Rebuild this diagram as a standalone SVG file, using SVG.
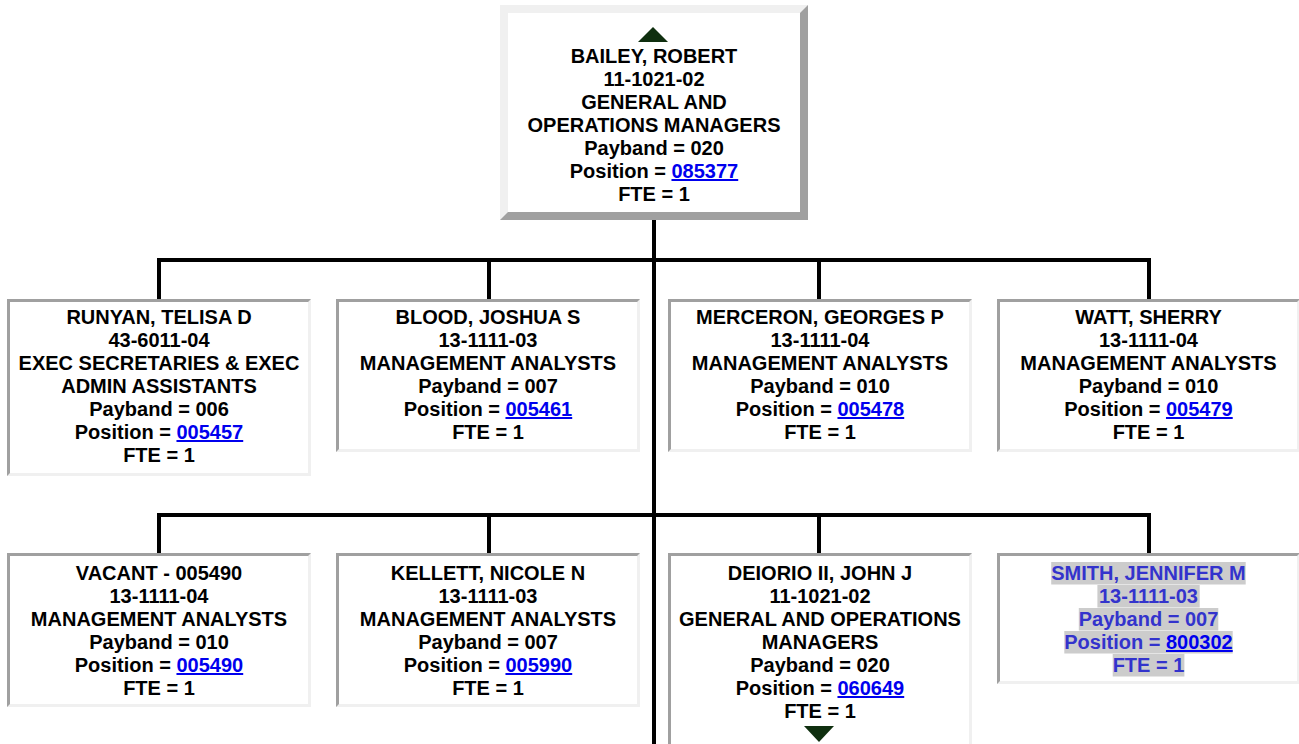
<svg xmlns="http://www.w3.org/2000/svg" width="1299" height="744" viewBox="0 0 1299 744">
<style>
.t{font-family:"Liberation Sans",Arial,sans-serif;font-weight:bold;font-size:20px;text-anchor:middle;fill:#000}
.lk{fill:#0000ee;text-decoration:underline}
.sel{fill:#3333cc}
.dk{fill:#a0a0a0}
.lt{fill:#f0f0f0}
.in{fill:#ffffff}
.hl{fill:#cccccc}
.tri{fill:#0f2f0f}
.c{stroke:#000;stroke-width:4;fill:none}
</style>
<rect width="1299" height="744" fill="#fff"/>
<g id="connectors">
<line class="c" x1="654" y1="220" x2="654" y2="744"/>
<line class="c" x1="157" y1="260" x2="1151" y2="260"/>
<line class="c" x1="159" y1="260" x2="159" y2="299"/>
<line class="c" x1="489" y1="260" x2="489" y2="299"/>
<line class="c" x1="819" y1="260" x2="819" y2="299"/>
<line class="c" x1="1149" y1="260" x2="1149" y2="299"/>
<line class="c" x1="157" y1="515" x2="1151" y2="515"/>
<line class="c" x1="159" y1="515" x2="159" y2="553"/>
<line class="c" x1="489" y1="515" x2="489" y2="553"/>
<line class="c" x1="819" y1="515" x2="819" y2="553"/>
<line class="c" x1="1149" y1="515" x2="1149" y2="553"/>
</g>
<g id="bailey">
<rect class="dk" x="500" y="5" width="308" height="215"/>
<polygon class="lt" points="500,5 808,5 800,13 508,13 508,212 500,220"/>
<rect class="in" x="508" y="13" width="292" height="199"/>
<polygon class="tri" points="653,27 668,42 638,42"/>
<text class="t" x="654" y="63">BAILEY, ROBERT</text>
<text class="t" x="654" y="86">11-1021-02</text>
<text class="t" x="654" y="109">GENERAL AND</text>
<text class="t" x="654" y="132">OPERATIONS MANAGERS</text>
<text class="t" x="654" y="155">Payband = 020</text>
<text class="t" x="654" y="178">Position = <tspan class="lk">085377</tspan></text>
<text class="t" x="654" y="201">FTE = 1</text>
</g>
<g id="runyan">
<rect class="lt" x="7" y="299" width="304" height="177"/>
<polygon class="dk" points="7,299 311,299 308,302 10,302 10,473 7,476"/>
<rect class="in" x="10" y="302" width="298" height="171"/>
<text class="t" x="159" y="324">RUNYAN, TELISA D</text>
<text class="t" x="159" y="347">43-6011-04</text>
<text class="t" x="159" y="370">EXEC SECRETARIES &amp; EXEC</text>
<text class="t" x="159" y="393">ADMIN ASSISTANTS</text>
<text class="t" x="159" y="416">Payband = 006</text>
<text class="t" x="159" y="439">Position = <tspan class="lk">005457</tspan></text>
<text class="t" x="159" y="462">FTE = 1</text>
</g>
<g id="blood">
<rect class="lt" x="336" y="299" width="304" height="153"/>
<polygon class="dk" points="336,299 640,299 637,302 339,302 339,449 336,452"/>
<rect class="in" x="339" y="302" width="298" height="147"/>
<text class="t" x="488" y="324">BLOOD, JOSHUA S</text>
<text class="t" x="488" y="347">13-1111-03</text>
<text class="t" x="488" y="370">MANAGEMENT ANALYSTS</text>
<text class="t" x="488" y="393">Payband = 007</text>
<text class="t" x="488" y="416">Position = <tspan class="lk">005461</tspan></text>
<text class="t" x="488" y="439">FTE = 1</text>
</g>
<g id="merceron">
<rect class="lt" x="668" y="299" width="304" height="153"/>
<polygon class="dk" points="668,299 972,299 969,302 671,302 671,449 668,452"/>
<rect class="in" x="671" y="302" width="298" height="147"/>
<text class="t" x="820" y="324">MERCERON, GEORGES P</text>
<text class="t" x="820" y="347">13-1111-04</text>
<text class="t" x="820" y="370">MANAGEMENT ANALYSTS</text>
<text class="t" x="820" y="393">Payband = 010</text>
<text class="t" x="820" y="416">Position = <tspan class="lk">005478</tspan></text>
<text class="t" x="820" y="439">FTE = 1</text>
</g>
<g id="watt">
<rect class="lt" x="997" y="299" width="303" height="153"/>
<polygon class="dk" points="997,299 1300,299 1297,302 1000,302 1000,449 997,452"/>
<rect class="in" x="1000" y="302" width="297" height="147"/>
<text class="t" x="1148.5" y="324">WATT, SHERRY</text>
<text class="t" x="1148.5" y="347">13-1111-04</text>
<text class="t" x="1148.5" y="370">MANAGEMENT ANALYSTS</text>
<text class="t" x="1148.5" y="393">Payband = 010</text>
<text class="t" x="1148.5" y="416">Position = <tspan class="lk">005479</tspan></text>
<text class="t" x="1148.5" y="439">FTE = 1</text>
</g>
<g id="vacant">
<rect class="lt" x="7" y="553" width="304" height="154"/>
<polygon class="dk" points="7,553 311,553 308,556 10,556 10,704 7,707"/>
<rect class="in" x="10" y="556" width="298" height="148"/>
<text class="t" x="159" y="580">VACANT - 005490</text>
<text class="t" x="159" y="603">13-1111-04</text>
<text class="t" x="159" y="626">MANAGEMENT ANALYSTS</text>
<text class="t" x="159" y="649">Payband = 010</text>
<text class="t" x="159" y="672">Position = <tspan class="lk">005490</tspan></text>
<text class="t" x="159" y="695">FTE = 1</text>
</g>
<g id="kellett">
<rect class="lt" x="336" y="553" width="304" height="154"/>
<polygon class="dk" points="336,553 640,553 637,556 339,556 339,704 336,707"/>
<rect class="in" x="339" y="556" width="298" height="148"/>
<text class="t" x="488" y="580">KELLETT, NICOLE N</text>
<text class="t" x="488" y="603">13-1111-03</text>
<text class="t" x="488" y="626">MANAGEMENT ANALYSTS</text>
<text class="t" x="488" y="649">Payband = 007</text>
<text class="t" x="488" y="672">Position = <tspan class="lk">005990</tspan></text>
<text class="t" x="488" y="695">FTE = 1</text>
</g>
<g id="deiorio">
<rect class="lt" x="668" y="553" width="304" height="207"/>
<polygon class="dk" points="668,553 972,553 969,556 671,556 671,757 668,760"/>
<rect class="in" x="671" y="556" width="298" height="201"/>
<text class="t" x="820" y="580">DEIORIO II, JOHN J</text>
<text class="t" x="820" y="603">11-1021-02</text>
<text class="t" x="820" y="626">GENERAL AND OPERATIONS</text>
<text class="t" x="820" y="649">MANAGERS</text>
<text class="t" x="820" y="672">Payband = 020</text>
<text class="t" x="820" y="695">Position = <tspan class="lk">060649</tspan></text>
<text class="t" x="820" y="718">FTE = 1</text>
<polygon class="tri" points="804,726 834,726 819,742"/>
</g>
<g id="smith">
<rect class="lt" x="997" y="553" width="303" height="131"/>
<polygon class="dk" points="997,553 1300,553 1297,556 1000,556 1000,681 997,684"/>
<rect class="in" x="1000" y="556" width="297" height="125"/>
<rect class="hl" x="1051.2" y="562" width="194.5" height="22.5"/>
<rect class="hl" x="1097.4" y="585" width="102.3" height="22.5"/>
<rect class="hl" x="1078.8" y="608" width="139.5" height="22.5"/>
<rect class="hl" x="1064.3" y="631" width="168.4" height="22.5"/>
<rect class="hl" x="1112.7" y="654" width="71.7" height="22.5"/>
<text class="t sel" x="1148.5" y="580">SMITH, JENNIFER M</text>
<text class="t sel" x="1148.5" y="603">13-1111-03</text>
<text class="t sel" x="1148.5" y="626">Payband = 007</text>
<text class="t sel" x="1148.5" y="649">Position = <tspan class="lk">800302</tspan></text>
<text class="t sel" x="1148.5" y="672">FTE = 1</text>
</g>
</svg>
